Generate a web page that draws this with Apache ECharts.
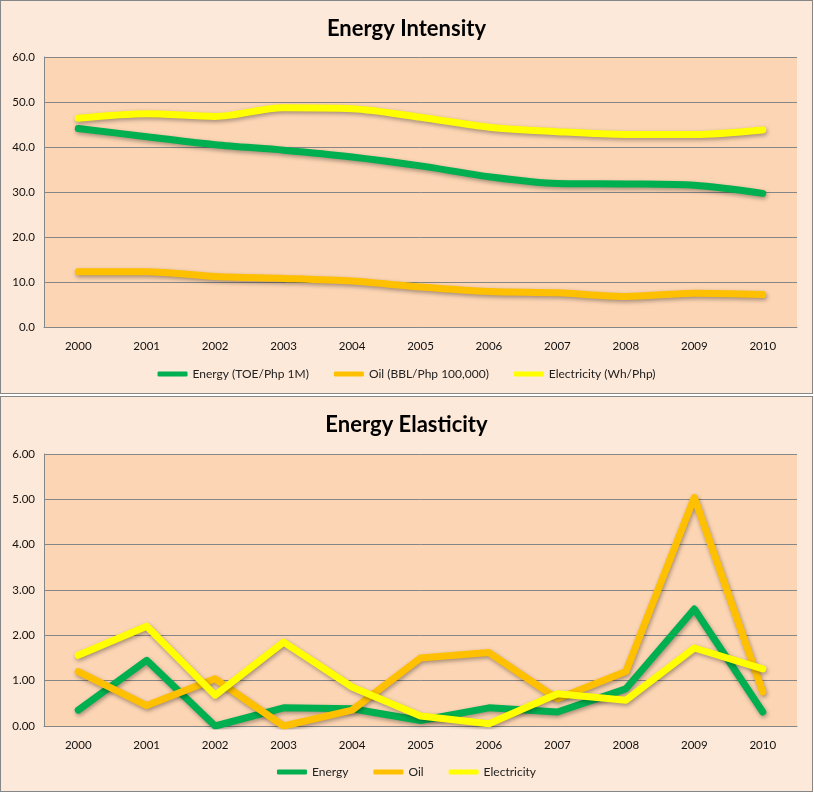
<!DOCTYPE html>
<html>
<head>
<meta charset="utf-8">
<script src="https://cdn.jsdelivr.net/npm/echarts@6/dist/echarts.min.js"></script>
<style>
  html, body { margin: 0; padding: 0; background: #ffffff; width: 814px; height: 796px; overflow: hidden; }
  .panel { position: absolute; left: 0; width: 811px; background: #FDE9D9; border: 1px solid #868686; }
  #c1 { top: 0; height: 392px; }
  #c2 { top: 396px; height: 394px; }
</style>
</head>
<body>
<div id="c1" class="panel"></div>
<div id="c2" class="panel"></div>
<script>
// ---- Data ----
const years = ['2000','2001','2002','2003','2004','2005','2006','2007','2008','2009','2010'];

const intensityTitle = 'Energy Intensity';
const intensityNames = ['Energy (TOE/Php 1M)', 'Oil (BBL/Php 100,000)', 'Electricity (Wh/Php)'];
const intensityEnergy = [44.1, 42.3, 40.5, 39.3, 37.8, 35.8, 33.4, 31.9, 31.8, 31.5, 29.7];
const intensityOil = [12.3, 12.3, 11.2, 10.8, 10.2, 8.9, 7.9, 7.6, 6.8, 7.5, 7.2];
const intensityElectricity = [46.4, 47.4, 46.8, 48.7, 48.5, 46.6, 44.4, 43.4, 42.8, 42.8, 43.8];

const elasticityTitle = 'Energy Elasticity';
const elasticityNames = ['Energy', 'Oil', 'Electricity'];
const elasticityEnergy = [0.35, 1.45, 0.0, 0.40, 0.38, 0.12, 0.40, 0.31, 0.82, 2.58, 0.31];
const elasticityOil = [1.20, 0.45, 1.04, 0.0, 0.35, 1.50, 1.62, 0.60, 1.20, 5.04, 0.75];
const elasticityElectricity = [1.56, 2.20, 0.68, 1.85, 0.86, 0.22, 0.05, 0.71, 0.57, 1.72, 1.26];

// ---- Styles ----
const colors = ['#00B050', '#FFC000', '#FFFF00'];
const FONT = 'Lato, "Open Sans", sans-serif';

function makeOption(title, names, seriesData, yMax, yInterval, decimals, smooth, gridTop, gridH, legendBottom) {
  return {
    animation: false,
    title: {
      text: title, left: 'center', top: 12,
      textStyle: { fontFamily: FONT, fontWeight: 'bold', fontSize: 22, color: '#000' }
    },
    legend: {
      data: names.map((n, i) => ({ name: n, icon: 'roundRect', itemStyle: { color: colors[i] } })),
      bottom: legendBottom, left: 'center',
      itemWidth: 30, itemHeight: 5, itemGap: 25,
      textStyle: { fontFamily: FONT, fontSize: 12, color: '#222' }
    },
    grid: {
      left: 43, right: 15, top: gridTop, height: gridH,
      show: true, backgroundColor: '#FCD5B4', borderWidth: 0
    },
    xAxis: {
      type: 'category', data: years, boundaryGap: true,
      axisLine: { lineStyle: { color: '#868686', width: 1 } },
      axisTick: { show: false },
      axisLabel: { fontFamily: FONT, fontSize: 11.5, color: '#111', margin: 13 }
    },
    yAxis: {
      type: 'value', min: 0, max: yMax, interval: yInterval,
      axisLine: { show: true, lineStyle: { color: '#868686', width: 1 } },
      axisTick: { show: false },
      splitLine: { lineStyle: { color: '#868686', width: 1 } },
      axisLabel: {
        fontFamily: FONT, fontSize: 11.5, color: '#111', margin: 9,
        formatter: v => v.toFixed(decimals)
      }
    },
    series: seriesData.map((d, i) => ({
      name: names[i], type: 'line', data: d, smooth: smooth,
      symbol: 'none', color: colors[i],
      lineStyle: {
        width: 7, color: colors[i], cap: 'round', join: 'round',
        shadowColor: 'rgba(0,0,0,0.35)', shadowBlur: 4, shadowOffsetX: 1, shadowOffsetY: 2
      }
    }))
  };
}

const c1 = echarts.init(document.getElementById('c1'), null, { renderer: 'canvas' });
c1.setOption(makeOption(intensityTitle, intensityNames,
  [intensityEnergy, intensityOil, intensityElectricity], 60, 10, 1, 0.3, 56, 270, 8));

const c2 = echarts.init(document.getElementById('c2'), null, { renderer: 'canvas' });
c2.setOption(makeOption(elasticityTitle, elasticityNames,
  [elasticityEnergy, elasticityOil, elasticityElectricity], 6, 1, 2, false, 57, 272, 8));
</script>
</body>
</html>
